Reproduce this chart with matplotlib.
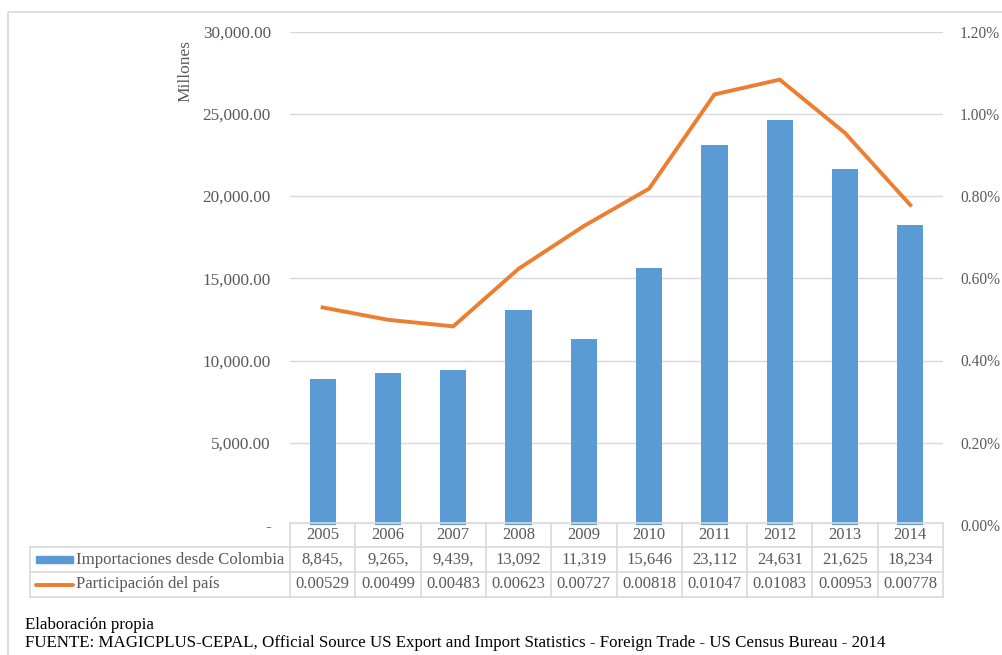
import matplotlib.pyplot as plt
from matplotlib.lines import Line2D
from matplotlib.patches import Rectangle
from matplotlib.ticker import FuncFormatter, PercentFormatter

plt.rcParams['font.family'] = ['Liberation Serif', 'DejaVu Serif']

anios = ['2005', '2006', '2007', '2008', '2009', '2010', '2011', '2012', '2013', '2014']
importaciones = [8845, 9265, 9439, 13092, 11319, 15646, 23112, 24631, 21625, 18234]
participacion = [0.00529, 0.00499, 0.00483, 0.00623, 0.00727, 0.00818,
                 0.01047, 0.01083, 0.00953, 0.00778]
serie_barras = 'Importaciones desde Colombia'
serie_linea = 'Participación del país'

AZUL = '#5B9BD5'
NARANJA = '#ED7D31'
GRIS_TXT = '#595959'
GRIS_LIN = '#D9D9D9'

W, H = 1003, 655
fig = plt.figure(figsize=(W / 100, H / 100), dpi=100)


def fx(px):
    return px / W


def fy(py):
    return 1 - py / H


# área del gráfico en píxeles
x0, x1 = 290, 943
y_top, y_cero = 31.5, 525
ax = fig.add_axes([fx(x0), fy(y_cero), fx(x1 - x0), (y_cero - y_top) / H])

pos = list(range(len(anios)))
ax.bar(pos, importaciones, width=0.4, color=AZUL, zorder=2)
ax.set_xlim(-0.5, len(anios) - 0.5)
ax.set_ylim(0, 30000)
ax.set_yticks(range(0, 30001, 5000))
ax.yaxis.set_major_formatter(FuncFormatter(lambda v, p: '-' if v == 0 else f'{v:,.2f}'))
ax.grid(axis='y', color=GRIS_LIN, linewidth=1, zorder=0)
ax.set_xticks([])
ax.tick_params(axis='y', length=0, pad=13.7, labelsize=12.3, labelcolor=GRIS_TXT)
for s in ax.spines.values():
    s.set_visible(False)

ax2 = ax.twinx()
ax2.plot(pos, participacion, color=NARANJA, linewidth=2.8, solid_joinstyle='miter', zorder=3)
ax2.set_ylim(0, 0.012)
ax2.set_yticks([i * 0.002 for i in range(7)])
ax2.yaxis.set_major_formatter(PercentFormatter(1.0, decimals=2))
ax2.tick_params(axis='y', length=0, pad=12.2, labelsize=11.2, labelcolor=GRIS_TXT)
for s in ax2.spines.values():
    s.set_visible(False)

fig.text(fx(185), fy(71), 'Millones', rotation=90, ha='center', va='center',
         fontsize=12.5, color=GRIS_TXT)

# tabla de datos bajo el gráfico
filas = [523, 547, 572, 597]
col_w = (x1 - x0) / len(anios)
x_lab = 30
lineas = [
    ([x0, x1], [filas[0], filas[0]]),
    ([x_lab, x1], [filas[1], filas[1]]),
    ([x_lab, x1], [filas[2], filas[2]]),
    ([x_lab, x1], [filas[3], filas[3]]),
    ([x_lab, x_lab], [filas[1], filas[3]]),
]
for i in range(len(anios) + 1):
    lineas.append(([x0 + i * col_w] * 2, [filas[0], filas[3]]))
for xs, ys in lineas:
    fig.add_artist(Line2D([fx(v) for v in xs], [fy(v) for v in ys],
                          color=GRIS_LIN, linewidth=1.2))

etiquetas_imp = [f'{v:,}' + (',' if v < 10000 else '') for v in importaciones]
for i, anio in enumerate(anios):
    xc = fx(x0 + (i + 0.5) * col_w)
    fig.text(xc, fy((filas[0] + filas[1]) / 2), anio, ha='center', va='center',
             fontsize=12, color=GRIS_TXT)
    fig.text(xc, fy((filas[1] + filas[2]) / 2), etiquetas_imp[i], ha='center',
             va='center', fontsize=12, color=GRIS_TXT)
    fig.text(xc, fy((filas[2] + filas[3]) / 2), f'{participacion[i]:.5f}', ha='center',
             va='center', fontsize=12, color=GRIS_TXT)

# claves de la leyenda dentro de la tabla
fig.add_artist(Rectangle((fx(36), fy(563)), fx(37), 7 / H, color=AZUL))
fig.add_artist(Line2D([fx(36), fx(73)], [fy(584.5), fy(584.5)], color=NARANJA,
                      linewidth=2.8, solid_capstyle='round'))
fig.text(fx(76), fy((filas[1] + filas[2]) / 2), serie_barras, ha='left', va='center',
         fontsize=12.1, color=GRIS_TXT)
fig.text(fx(76), fy((filas[2] + filas[3]) / 2), serie_linea, ha='left', va='center',
         fontsize=12.1, color=GRIS_TXT)

# borde del área del gráfico
fig.add_artist(Line2D([fx(8), fx(8), 1], [0, fy(12), fy(12)], color=GRIS_LIN, linewidth=1.2))

fig.text(fx(25), fy(625), 'Elaboración propia', ha='left', va='center', fontsize=12.2)
fig.text(fx(25), fy(643),
         'FUENTE: MAGICPLUS-CEPAL, Official Source US Export and Import Statistics'
         ' - Foreign Trade - US Census Bureau - 2014',
         ha='left', va='center', fontsize=12.2)

fig.savefig('out.png', dpi=100)
